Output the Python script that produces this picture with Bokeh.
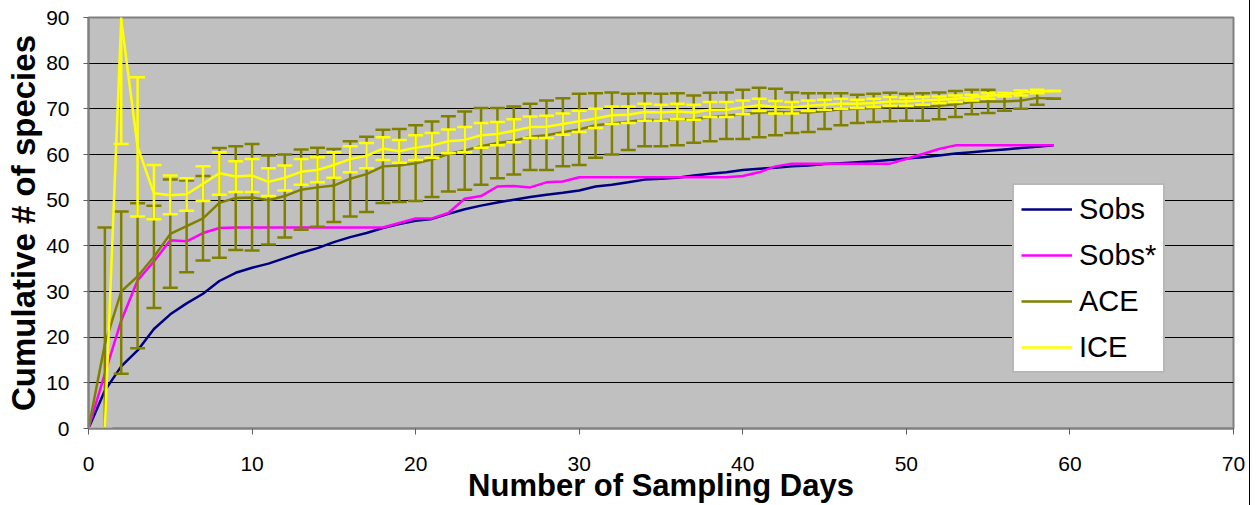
from bokeh.plotting import figure
from bokeh.models import Range1d, Legend, LegendItem, FixedTicker
from bokeh.embed import file_html
from bokeh.resources import INLINE

days = list(range(60))

sobs = [0, 8.3, 13.6, 17.1, 21.8, 25.0, 27.4, 29.5, 32.3, 34.1,
        35.2, 36.1, 37.3, 38.5, 39.5, 40.8, 41.9, 42.8, 43.9, 44.8,
        45.5, 45.9, 47.0, 48.0, 48.8, 49.5, 50.1, 50.7, 51.2, 51.6,
        52.1, 53.0, 53.4, 53.9, 54.5, 54.7, 54.9, 55.4, 55.8, 56.1,
        56.6, 56.9, 57.1, 57.4, 57.6, 57.9, 58.1, 58.3, 58.5, 58.8,
        59.1, 59.4, 59.8, 60.2, 60.5, 60.8, 61.1, 61.4, 61.7, 62.0]

sobs_star = [0, 12.0, 23.6, 32.4, 36.6, 41.2, 41.0, 42.8, 43.9, 44.0,
             44.0, 44.0, 44.0, 44.0, 44.0, 44.0, 44.0, 44.0, 44.0, 45.0,
             46.0, 46.0, 47.2, 50.3, 50.9, 53.0, 53.1, 52.8, 53.9, 54.1,
             55.0, 55.0, 55.0, 55.0, 55.0, 55.0, 55.0, 55.0, 55.0, 55.0,
             55.3, 56.1, 57.4, 58.0, 58.0, 58.0, 58.0, 58.0, 58.0, 58.0,
             59.0, 60.1, 61.2, 62.0, 62.0, 62.0, 62.0, 62.0, 62.0, 62.0]

ace = [0, 18.5, 30.0, 33.3, 37.6, 42.6, 44.3, 46.0, 49.4, 50.5,
       50.6, 50.0, 50.9, 52.3, 52.8, 53.2, 54.7, 55.7, 57.4, 57.6,
       58.1, 58.9, 60.1, 60.9, 61.8, 62.5, 63.0, 63.9, 64.2, 64.9,
       65.5, 66.4, 66.8, 67.2, 67.6, 67.5, 67.7, 67.7, 68.2, 68.5,
       68.8, 69.2, 69.3, 69.2, 69.2, 69.5, 69.9, 70.0, 70.2, 70.4,
       70.4, 70.4, 70.7, 71.0, 71.5, 71.6, 71.6, 71.8, 72.4, 72.2]
ace_lo = [0, -7.0, 12.0, 17.6, 26.4, 30.8, 34.2, 36.8, 37.4, 39.1,
          39.0, 40.3, 41.8, 43.5, 44.2, 45.2, 46.4, 47.4, 49.4, 49.6,
          49.8, 50.7, 51.9, 52.3, 53.4, 54.8, 55.6, 56.6, 56.6, 57.4,
          57.7, 59.3, 60.0, 61.0, 61.8, 61.8, 62.0, 62.6, 62.9, 63.4,
          63.4, 63.8, 64.2, 64.7, 64.9, 65.6, 66.4, 66.9, 67.1, 67.3,
          67.4, 67.4, 67.7, 68.2, 68.8, 69.1, 69.6, 70.0, 70.9, 72.2]
ace_hi = [0, 44.0, 47.5, 49.3, 48.8, 54.5, 54.3, 55.3, 61.4, 61.8,
          62.3, 59.8, 60.0, 61.1, 61.5, 61.2, 62.9, 63.9, 65.4, 65.6,
          66.4, 67.2, 68.4, 69.4, 70.2, 70.2, 70.5, 71.1, 71.8, 72.3,
          73.3, 73.4, 73.6, 73.3, 73.4, 73.3, 73.4, 72.9, 73.5, 73.6,
          74.2, 74.6, 74.4, 73.6, 73.4, 73.4, 73.4, 73.1, 73.3, 73.5,
          73.3, 73.4, 73.6, 73.9, 74.2, 74.2, 73.6, 73.6, 73.9, 72.2]

ice = [0, 0, 89.5, 61.7, 51.5, 51.1, 51.3, 53.6, 55.9, 55.2,
       55.4, 54.0, 54.9, 56.2, 56.6, 57.7, 59.0, 59.7, 61.3, 60.7,
       61.5, 62.0, 62.9, 63.2, 64.2, 64.5, 65.2, 66.0, 66.1, 66.7,
       67.3, 67.9, 68.6, 68.7, 69.3, 69.2, 69.4, 69.2, 69.8, 69.8,
       70.3, 70.8, 70.4, 70.3, 70.7, 70.9, 71.1, 71.1, 71.3, 71.6,
       71.6, 71.8, 72.0, 72.2, 72.5, 72.8, 73.2, 73.5, 73.8, 73.9]
ice_lo = [0, 0, 62.3, 46.4, 45.8, 46.9, 47.7, 49.8, 51.2, 51.8,
          51.8, 50.9, 52.1, 53.4, 53.9, 54.9, 56.1, 57.0, 58.8, 58.2,
          58.8, 59.3, 60.3, 60.5, 61.5, 62.0, 62.7, 63.6, 63.6, 64.3,
          64.9, 65.8, 66.7, 66.9, 67.4, 67.4, 67.7, 67.6, 68.2, 68.2,
          68.8, 69.5, 69.0, 69.0, 69.5, 69.8, 70.0, 70.2, 70.4, 70.7,
          70.7, 70.9, 71.2, 71.5, 71.8, 72.2, 72.7, 72.9, 73.4, 73.9]
ice_hi = [0, 0, 116.7, 76.9, 57.7, 55.4, 54.8, 57.4, 60.5, 58.5,
          59.0, 57.0, 57.6, 59.0, 59.4, 60.5, 61.8, 62.5, 63.8, 63.2,
          64.2, 64.7, 65.5, 66.0, 66.9, 67.1, 67.7, 68.3, 68.5, 69.0,
          69.6, 70.0, 70.5, 70.5, 71.1, 70.9, 71.1, 70.9, 71.5, 71.5,
          71.8, 72.2, 71.7, 71.5, 71.8, 72.0, 72.2, 72.0, 72.2, 72.6,
          72.4, 72.6, 72.7, 72.9, 73.1, 73.4, 73.6, 74.0, 74.2, 73.9]

x_ticks = [0, 10, 20, 30, 40, 50, 60, 70]
y_ticks = [0, 10, 20, 30, 40, 50, 60, 70, 80, 90]
series_names = ["Sobs", "Sobs*", "ACE", "ICE"]
colors = ["#000080", "#FF00FF", "#808000", "#FFFF00"]

FONT = "Liberation Sans"

p = figure(width=1250, height=505, output_backend="svg", toolbar_location=None,
           x_range=Range1d(0, 70), y_range=Range1d(0, 90),
           min_border_left=88, min_border_right=17, min_border_top=17,
           min_border_bottom=77)
p.styles = {"border-right": "1px solid black"}
p.background_fill_color = "#C0C0C0"
p.border_fill_color = "white"
p.outline_line_color = "#808080"
p.outline_line_width = 2

p.xgrid.grid_line_color = None
p.ygrid.grid_line_color = "black"
p.ygrid.grid_line_width = 1
p.ygrid.ticker = FixedTicker(ticks=y_ticks)

p.xaxis.ticker = FixedTicker(ticks=x_ticks)
p.yaxis.ticker = FixedTicker(ticks=y_ticks)
for ax in (p.xaxis, p.yaxis):
    ax.axis_line_color = "#808080"
    ax.axis_line_width = 2
    ax.major_tick_line_color = "#606060"
    ax.major_tick_line_width = 1
    ax.major_tick_in = 0
    ax.minor_tick_line_color = None
    ax.major_label_text_font = FONT
    ax.major_label_text_font_size = "21px"
    ax.major_label_text_color = "black"
    ax.axis_label_text_font = FONT
    ax.axis_label_text_font_style = "bold"
    ax.axis_label_text_color = "black"

p.xaxis.axis_label_text_font_size = "31px"
p.yaxis.axis_label_text_font_size = "33px"

p.xaxis.major_tick_out = 6
p.xaxis.major_label_standoff = 22
p.xaxis.axis_label = "Number of Sampling Days"
p.xaxis.axis_label_standoff = -6
p.yaxis.major_tick_out = 5
p.yaxis.major_label_standoff = 14
p.yaxis.axis_label = "Cumulative # of species"
p.yaxis.axis_label_standoff = 1

r_sobs = p.line(days, sobs, line_color=colors[0], line_width=2.5)
r_star = p.line(days, sobs_star, line_color=colors[1], line_width=2.5)

p.segment(x0=days, y0=ace_lo, x1=days, y1=ace_hi, line_color=colors[2], line_width=2.5)
p.scatter(days, ace_lo, marker="dash", size=15, line_color=colors[2], line_width=2.5)
p.scatter(days, ace_hi, marker="dash", size=15, line_color=colors[2], line_width=2.5)
r_ace = p.line(days, ace, line_color=colors[2], line_width=2.5)

p.segment(x0=days, y0=ice_lo, x1=days, y1=ice_hi, line_color=colors[3], line_width=2.5)
p.scatter(days, ice_lo, marker="dash", size=15, line_color=colors[3], line_width=2.5)
p.scatter(days, ice_hi, marker="dash", size=15, line_color=colors[3], line_width=2.5)
r_ice = p.line(days, ice, line_color=colors[3], line_width=2.5)

legend = Legend(items=[LegendItem(label=n, renderers=[r]) for n, r in
                       zip(series_names, [r_sobs, r_star, r_ace, r_ice])],
                location=(924, 55))
legend.label_text_font = FONT
legend.label_text_font_size = "29px"
legend.label_text_color = "black"
legend.glyph_width = 51
legend.glyph_height = 34
legend.label_height = 34
legend.label_standoff = 7
legend.spacing = 12
legend.padding = 7
legend.margin = 0
legend.border_line_color = "#707070"
legend.border_line_width = 2
legend.background_fill_color = "white"
legend.background_fill_alpha = 1
p.add_layout(legend)

open("out.html", "w").write(file_html(p, INLINE))
